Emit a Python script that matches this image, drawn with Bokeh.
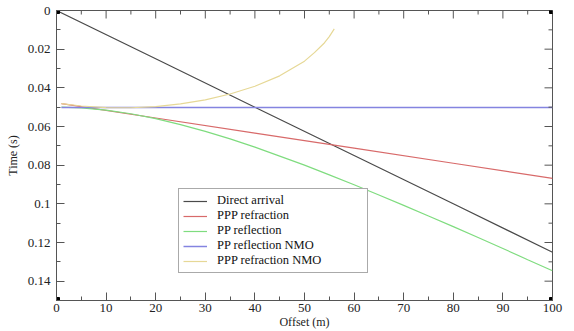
import math
from bokeh.plotting import figure
from bokeh.models import Range1d, FixedTicker, Legend, LegendItem
from bokeh.embed import file_html
from bokeh.resources import INLINE

# ---- data ----
offset_direct = [0, 20, 40, 60, 80, 100]
time_direct = [0.0, 0.025, 0.05, 0.075, 0.1, 0.125]

offset_refr = [1, 20, 40, 60, 80, 100]
time_refr = [0.0482, 0.0556, 0.0634, 0.0712, 0.0790, 0.0868]

offset_refl = [1, 5, 10, 15, 20, 25, 30, 35, 40, 45, 50, 55, 60, 65, 70, 75, 80, 85, 90, 95, 100]
time_refl = [0.0500, 0.0504, 0.0515, 0.0534, 0.0559, 0.0590, 0.0625, 0.0664, 0.0707, 0.0753,
             0.0800, 0.0850, 0.0901, 0.0954, 0.1008, 0.1063, 0.1118, 0.1174, 0.1231, 0.1289, 0.1346]

offset_refl_nmo = [1, 100]
time_refl_nmo = [0.0502, 0.0502]

offset_refr_nmo = [1, 5, 10, 15, 20, 25, 30, 35, 40, 45, 50, 52, 54, 55, 56]
time_refr_nmo = [0.0482, 0.0494, 0.0502, 0.0503, 0.0497, 0.0483, 0.0462, 0.0432, 0.0392,
                 0.0338, 0.0262, 0.0218, 0.0168, 0.0135, 0.0095]

series_names = ["Direct arrival", "PPP refraction", "PP reflection",
                "PP reflection NMO", "PPP refraction NMO"]
series_colors = ["#4a4a4a", "#d86a6a", "#7fdc7f", "#8484e0", "#e6d896"]
series_widths = [1.2, 1.2, 1.2, 1.5, 1.2]

x_ticks = [0, 10, 20, 30, 40, 50, 60, 70, 80, 90, 100]
x_minor = [5, 15, 25, 35, 45, 55, 65, 75, 85, 95]
x_tick_labels = ["0", "10", "20", "30", "40", "50", "60", "70", "80", "90", "100"]
y_ticks = [0.0, 0.02, 0.04, 0.06, 0.08, 0.10, 0.12, 0.14]
y_minor = [0.01, 0.03, 0.05, 0.07, 0.09, 0.11, 0.13, 0.15]
y_tick_labels = ["0", "0.02", "0.04", "0.06", "0.08", "0.1", "0.12", "0.14"]

X0, X1 = 0, 100
Y0, Y1 = 0.0, 0.15

FONT = "Liberation Serif"
AXC = "#555555"

p = figure(width=574, height=331, output_backend="svg", toolbar_location=None,
           x_range=Range1d(X0, X1), y_range=Range1d(Y1, Y0),
           min_border_left=56, min_border_right=22, min_border_top=10, min_border_bottom=28,
           background_fill_color="white", border_fill_color="white")
p.outline_line_color = AXC
p.outline_line_width = 1
p.grid.visible = False

xs_all = [offset_direct, offset_refr, offset_refl, offset_refl_nmo, offset_refr_nmo]
ys_all = [time_direct, time_refr, time_refl, time_refl_nmo, time_refr_nmo]
renderers = []
for xs, ys, c, w in zip(xs_all, ys_all, series_colors, series_widths):
    renderers.append(p.line(xs, ys, line_color=c, line_width=w))

# mirrored (inward) ticks on the top and right edges
p.ray(x=x_ticks, y=[Y0] * len(x_ticks), length=8, length_units="screen",
      angle=-math.pi / 2, line_color=AXC, line_width=1)
p.ray(x=x_minor, y=[Y0] * len(x_minor), length=4, length_units="screen",
      angle=-math.pi / 2, line_color=AXC, line_width=1)
p.ray(x=[X1] * len(y_ticks), y=y_ticks, length=8, length_units="screen",
      angle=math.pi, line_color=AXC, line_width=1)
p.ray(x=[X1] * len(y_minor), y=y_minor, length=4, length_units="screen",
      angle=math.pi, line_color=AXC, line_width=1)

# corner squares
p.scatter([X0, X0, X1, X1], [Y0, Y1, Y0, Y1], marker="square", size=6, color="black")


def style_axis(ax):
    ax.axis_line_color = AXC
    ax.axis_line_width = 1
    ax.major_tick_in = 8
    ax.major_tick_out = 0
    ax.minor_tick_in = 4
    ax.minor_tick_out = 0
    ax.major_tick_line_color = AXC
    ax.minor_tick_line_color = AXC
    ax.major_label_text_font = FONT
    ax.major_label_text_font_size = "13px"
    ax.major_label_text_color = "#222222"
    ax.axis_label_text_font = FONT
    ax.axis_label_text_font_size = "12px"
    ax.axis_label_text_font_style = "normal"
    ax.axis_label_text_color = "#222222"


xb = p.xaxis[0]
xb.ticker = FixedTicker(ticks=x_ticks, minor_ticks=x_minor)
xb.major_label_overrides = {t: s for t, s in zip(x_ticks, x_tick_labels)}
xb.axis_label = "Offset (m)"
xb.major_label_standoff = 3
xb.axis_label_standoff = 0
style_axis(xb)
xb.major_label_text_line_height = 1.0
xb.axis_label_text_line_height = 1.0

yl = p.yaxis[0]
yl.ticker = FixedTicker(ticks=y_ticks, minor_ticks=y_minor)
yl.major_label_overrides = {t: s for t, s in zip(y_ticks, y_tick_labels)}
yl.axis_label = "Time (s)"
yl.major_label_standoff = 6
yl.axis_label_standoff = 5
style_axis(yl)

legend = Legend(items=[LegendItem(label=n, renderers=[r]) for n, r in zip(series_names, renderers)],
                location=(122, 27))
legend.label_text_font = FONT
legend.label_text_font_size = "12.5px"
legend.label_text_line_height = 1.0
legend.label_text_color = "#111111"
legend.label_height = 10
legend.label_width = 146
legend.label_standoff = 10
legend.glyph_width = 24
legend.glyph_height = 10
legend.spacing = 0
legend.padding = 4
legend.margin = 0
legend.border_line_color = AXC
legend.border_line_width = 1
legend.background_fill_color = "white"
legend.background_fill_alpha = 1
p.add_layout(legend, "center")

open("out.html", "w").write(file_html(p, INLINE))
